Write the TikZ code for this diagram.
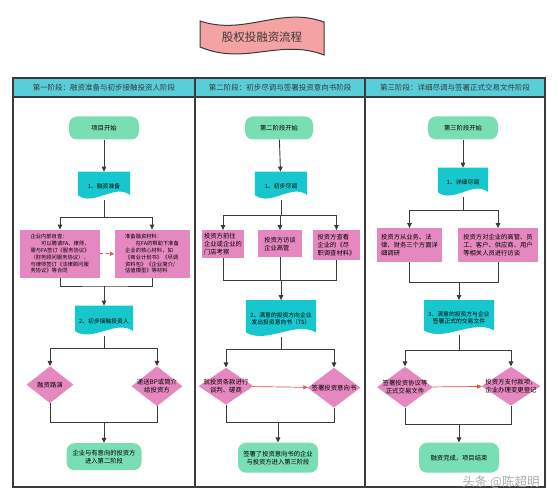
\documentclass[tikz,border=0pt]{standalone}
\usepackage{fontspec}
\setmainfont{Noto Sans CJK SC}
\usepackage{xcolor}
\usepackage{tikz}
\usetikzlibrary{shapes,arrows.meta,positioning,calc,backgrounds}

\definecolor{termcol}{RGB}{122,222,180}
\definecolor{doccol}{RGB}{22,200,206}
\definecolor{pinkcol}{RGB}{230,136,192}
\definecolor{headcol}{RGB}{88,206,216}
\definecolor{titlecol}{RGB}{245,162,162}
\definecolor{linecol}{RGB}{58,58,58}
\definecolor{redcol}{RGB}{228,82,72}
\newcommand{\zw}[1]{\makebox[0pt]{#1}}

\begin{document}
\begin{tikzpicture}[
  x=1pt, y=-1pt,
  node distance=30pt and 20pt,
  term/.style={fill=termcol, rounded corners=8pt, align=center, minimum width=70pt, minimum height=23pt, font=\fontsize{6.3}{7.8}\selectfont},
  docu/.style={align=center, inner sep=2pt, minimum width=52pt, minimum height=28pt, font=\fontsize{5.8}{7.2}\selectfont},
  proc/.style={fill=pinkcol, align=left, inner sep=2pt, font=\fontsize{6.3}{7.8}\selectfont},
  dec/.style={diamond, fill=pinkcol, align=center, inner sep=0pt, font=\fontsize{6.4}{8}\selectfont},
  head/.style={font=\fontsize{7.5}{9}\selectfont, text=linecol},
  tab/.style={draw=linecol, line width=1.2pt},
  line/.style={draw=linecol, line width=0.9pt},
  arr/.style={-{Triangle[length=5pt,width=4.5pt]}, draw=linecol, line width=0.9pt},
  rarr/.style={-{Triangle[length=4.5pt,width=4pt]}, draw=redcol, line width=0.7pt}
]
  \useasboundingbox (0,0) rectangle (558,500);

  \filldraw[fill=titlecol, draw=linecol, line width=1pt] (200,21) .. controls (245,36) and (280,6) .. (324,22)
    -- (324,55) .. controls (280,38) and (245,66) .. (200,47) -- cycle;
  \node[font=\fontsize{11.5}{13}\selectfont, text=linecol] (title) at (262,37) {股权投融资流程};

  \fill[headcol] (13,78) rectangle (545,97);
  \draw[tab] (13,78) rectangle (545,487);
  \draw[tab] (13,97) -- (545,97);
  \draw[tab] (195,78) -- (195,487);
  \draw[tab] (365,78) -- (365,487);
  \node[head] (h1) at (104,87.5) {第一阶段：融资准备与初步接触投资人阶段};
  \node[head] (h2) at (280,87.5) {第二阶段：初步尽调与签署投资意向书阶段};
  \node[head] (h3) at (455,87.5) {第三阶段：详细尽调与签署正式交易文件阶段};

  \node[term] (s1) at (104,128) {项目开始};
  \node[docu, below=32pt of s1] (d1) {1、融资准备};
  \node[proc, font=\fontsize{5.3}{6.8}\selectfont, minimum width=80pt, minimum height=48pt, below=29.5pt of d1, xshift=-44pt] (p1)
    {企业内部自查：\\\hspace*{2em}可以聘请FA、律师，\\需与FA签订《服务协议》\\（财务顾问服务协议），\\与律师签订《法律顾问服\\务协议》等合同};
  \node[proc, font=\fontsize{5.3}{6.8}\selectfont, minimum width=75pt, minimum height=48pt, below=29.5pt of d1, xshift=48pt] (p2)
    {准备融资材料：\\\hspace*{2em}在FA的帮助下准备\\企业的核心材料，如\\《商业计划书》《尽调\\资料包》《企业简介/\\估值模型》等材料};
  \node[docu, minimum width=58pt, minimum height=30pt, below=105.5pt of d1] (d2) {2、初步接触投资人};
  \node[dec, minimum width=47pt, minimum height=37pt, below=30pt of d2, xshift=-54pt] (q1) {\zw{融资路演}};
  \node[dec, minimum width=51pt, minimum height=40pt, below=30pt of d2, xshift=53pt] (q2) {\zw{递送BP或简介}\\\zw{给投资方}};
  \node[term, minimum width=75pt, minimum height=27pt, below=107pt of d2] (e1) {企业与有意向的投资方\\进入第二阶段};
  \coordinate (a1) at ($(d1.south)+(0,17)$);
  \coordinate (b1) at ($(d1 |- p1.south)+(0,8)$);
  \coordinate (c1) at ($(d2.south)+(0,12)$);
  \coordinate (m1) at ($(d2 |- q2.south)+(0,16)$);

  \draw[arr] (s1) -- (d1);
  \draw[line] (d1) -- (a1);
  \draw[arr] (a1) -| (p1);
  \draw[arr] (a1) -| (p2);
  \draw[rarr, dashed] (p1) -- (p2);
  \draw[line] (p1) |- (b1) -| (p2);
  \draw[arr] (b1) -- (d2);
  \draw[line] (d2) -- (c1);
  \draw[arr] (c1) -| (q1);
  \draw[arr] (c1) -| (q2);
  \draw[line] (q1) |- (m1) -| (q2);
  \draw[arr] (m1) -- (e1);

  \node[term, minimum width=68pt] (s2) at (279,128) {第二阶段开始};
  \node[docu, below=32pt of s2, xshift=2pt] (d3) {1、初步尽调};
  \node[proc, minimum width=42pt, minimum height=28pt, below=30pt of d3, xshift=-58pt] (p3) {投资方前往\\企业或企业的\\门店考察};
  \node[proc, minimum width=44pt, minimum height=27pt, below=30pt of d3, xshift=-1pt] (p4) {投资方访谈\\企业高管};
  \node[proc, minimum width=47pt, minimum height=30pt, below=30pt of d3, xshift=55.5pt] (p5) {投资方查看\\企业的《尽\\职调查材料》};
  \node[docu, minimum width=70pt, minimum height=37pt, below=100pt of d3] (d4) {2、满意的投资方向企业\\发出投资意向书（TS）};
  \node[dec, minimum width=55pt, minimum height=37pt, below=30pt of d4, xshift=-55pt] (q3) {\zw{就投资条款进行}\\\zw{谈判、磋商}};
  \node[dec, minimum width=53pt, minimum height=40pt, below=30pt of d4, xshift=53pt] (q4) {\zw{签署投资意向书}};
  \node[term, minimum width=80pt, minimum height=30pt, below=105pt of d4, xshift=-3pt] (e2) {签署了投资意向书的企业\\与投资方进入第三阶段};
  \coordinate (a3) at ($(d3.south)+(0,15)$);
  \coordinate (b3) at ($(d4 |- p3.south)+(0,22)$);
  \coordinate (c3) at ($(d4.south)+(0,12)$);
  \coordinate (m3) at ($(e2 |- q4.south)+(0,15)$);

  \draw[arr] (s2) -- (d3);
  \draw[line] (d3) -- (a3);
  \draw[arr] (a3) -| (p3);
  \draw[arr] (a3) -- (a3 -| p4) -- (p4);
  \draw[arr] (a3) -| (p5);
  \draw[line] (p3) |- (b3) -| (p5);
  \draw[line] (p4) -- (p4 |- b3);
  \draw[arr] (b3) -- (d4);
  \draw[line] (d4) -- (c3);
  \draw[arr] (c3) -| (q3);
  \draw[arr] (c3) -| (q4);
  \draw[rarr] (q3) -- (q4);
  \draw[line] (q3) |- (m3) -| (q4);
  \draw[arr] (m3) -- (e2);

  \node[term] (s3) at (463,128) {第三阶段开始};
  \node[docu, minimum width=50pt, minimum height=29pt, below=28pt of s3] (d5) {1、详细尽调};
  \node[proc, minimum width=65pt, minimum height=34pt, below=31pt of d5, xshift=-53.5pt] (p6) {投资方从业务、法\\律、财务三个方面详\\细调研};
  \node[proc, minimum width=80pt, minimum height=34pt, below=31pt of d5, xshift=35pt] (p7) {投资方对企业的高管、员\\工、客户、供应商、用户\\等相关人员进行访谈};
  \node[docu, minimum width=70pt, minimum height=35pt, below=103pt of d5, xshift=-4pt] (d6) {3、满意的投资方与企业\\签署正式的交易文件};
  \node[dec, minimum width=56pt, minimum height=41pt, below=31pt of d6, xshift=-54pt] (q5) {\zw{签署投资协议等}\\\zw{正式交易文件}};
  \node[dec, minimum width=59pt, minimum height=39pt, below=31pt of d6, xshift=52pt] (q6) {\zw{投资方支付款项，}\\\zw{企业办理变更登记}};
  \node[term, minimum width=80pt, minimum height=30pt, below=107pt of d6] (e3) {融资完成，项目结束};
  \coordinate (a5) at ($(d5.south)+(0,13)$);
  \coordinate (b5) at ($(d6 |- p6.south)+(0,20)$);
  \coordinate (c5) at ($(d6.south)+(0,15)$);
  \coordinate (m5) at ($(d6 |- q5.south)+(0,17)$);

  \draw[arr] (s3) -- (d5);
  \draw[line] (d5) -- (a5);
  \draw[arr] (a5) -| (p6);
  \draw[arr] (a5) -| (p7);
  \draw[line] (p6) |- (b5) -| (p7);
  \draw[arr] (b5) -- (d6);
  \draw[line] (d6) -- (c5);
  \draw[arr] (c5) -| (q5);
  \draw[arr] (c5) -| (q6);
  \draw[rarr] (q5) -- (q6);
  \draw[line] (q5) |- (m5) -| (q6);
  \draw[arr] (m5) -- (e3);

  \begin{scope}[on background layer]
    \foreach \n in {d1,d2,d3,d4,d5,d6}
      \fill[doccol] (\n.north west) -- (\n.north east) -- ($(\n.south east)+(0pt,5pt)$)
        .. controls ($(\n.south)!0.4!(\n.south east)+(0pt,17pt)$) and ($(\n.south)!0.4!(\n.south west)+(0pt,-7pt)$)
        .. ($(\n.south west)+(0pt,5pt)$) -- cycle;
  \end{scope}

  \node[font=\fontsize{12.5}{14}\selectfont, text=gray!65] (wm) at (501,482) {头条 @陈超明};
\end{tikzpicture}
\end{document}
